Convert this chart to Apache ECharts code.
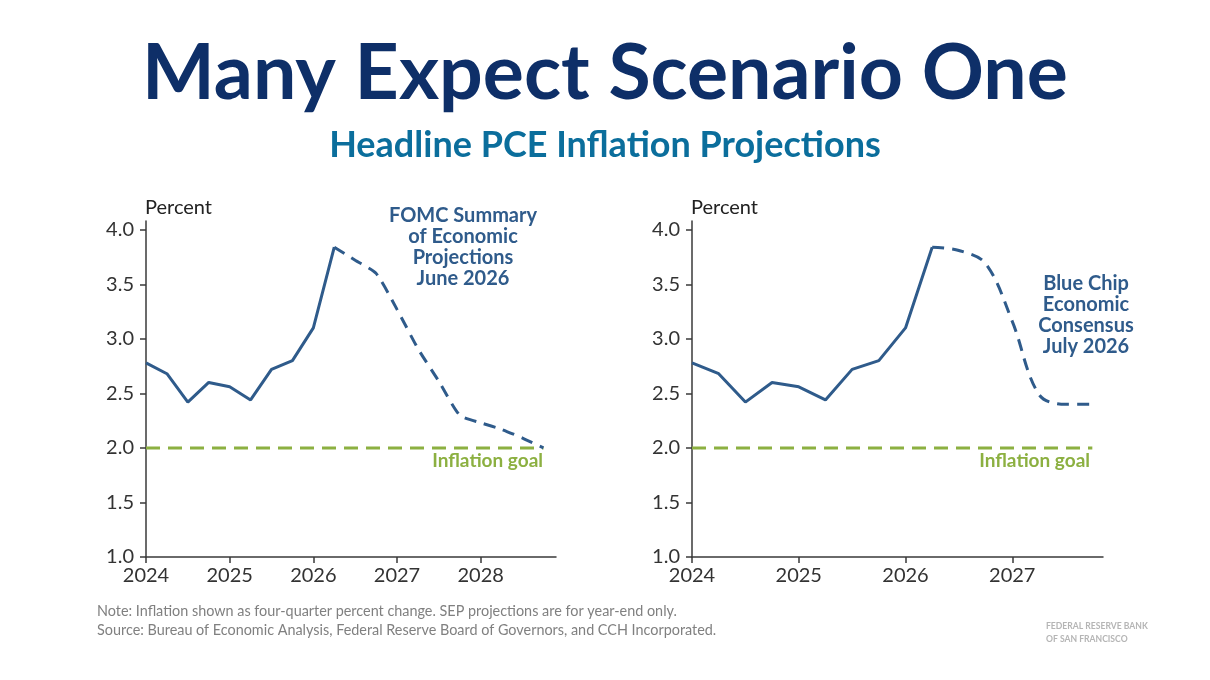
<!DOCTYPE html>
<html><head><meta charset="utf-8">
<script src="https://cdn.jsdelivr.net/npm/echarts@6/dist/echarts.min.js"></script>
<style>html,body{margin:0;padding:0;background:#fff}#c{width:1210px;height:680px}</style>
</head><body><div id="c"></div>
<script>
// ---- data ----
var histX = [2024, 2024.25, 2024.5, 2024.75, 2025, 2025.25, 2025.5, 2025.75, 2026, 2026.25];
var histY = [2.78, 2.68, 2.42, 2.60, 2.56, 2.44, 2.72, 2.80, 3.10, 3.84];
var sepX = [2026.25, 2026.5, 2026.75, 2027, 2027.25, 2027.5, 2027.75, 2028, 2028.25, 2028.5, 2028.75];
var sepY = [3.84, 3.72, 3.60, 3.27, 2.91, 2.61, 2.30, 2.23, 2.17, 2.09, 2.00];
var bcX = [2026.25, 2026.5, 2026.75, 2027, 2027.25, 2027.5, 2027.75];
var bcY = [3.84, 3.81, 3.69, 3.16, 2.49, 2.40, 2.40];
var goalLeftX = [2024, 2028.75];
var goalRightX = [2024, 2027.75];
var goalY = [2.0, 2.0];
var yTicks = [1.0, 1.5, 2.0, 2.5, 3.0, 3.5, 4.0];
var xTicksLeft = [2024, 2025, 2026, 2027, 2028];
var xTicksRight = [2024, 2025, 2026, 2027];

function pairs(xs, ys){ return xs.map(function(x,i){ return [x, ys[i]]; }); }

var blue = '#2f5b8b', green = '#8cb041', axisCol = '#3a3a3a', font = 'Lato';

function xAx(idx, max, ticks){
  return {type:'value', gridIndex:idx, min:2024, max:max, interval:1,
    axisLine:{show:true, lineStyle:{color:axisCol, width:1.5}},
    axisTick:{show:true, length:6, customValues:ticks, lineStyle:{color:axisCol, width:1.5}},
    axisLabel:{customValues:ticks, color:'#333', fontSize:20, fontFamily:font, margin:9,
      formatter:function(v){return String(Math.round(v));}},
    splitLine:{show:false}};
}
function yAx(idx){
  return {type:'value', gridIndex:idx, min:1, max:4.08, interval:0.5,
    axisLine:{show:true, lineStyle:{color:axisCol, width:1.5}},
    axisTick:{show:true, length:6, customValues:yTicks, lineStyle:{color:axisCol, width:1.5}},
    axisLabel:{customValues:yTicks, color:'#333', fontSize:20, fontFamily:font, margin:12,
      formatter:function(v){return v.toFixed(1);}},
    splitLine:{show:false}};
}
function line(xi, data, dashed, color, smooth){
  return {type:'line', xAxisIndex:xi, yAxisIndex:xi, data:data, symbol:'none', smooth:smooth||false,
    lineStyle:{color:color, width:3, type: dashed ? [12,8] : 'solid'}, z: 3, silent:true};
}

var chart = echarts.init(document.getElementById('c'), null, {renderer:'canvas'});
chart.setOption({
  backgroundColor:'#fff',
  animation:false,
  grid:[
    {left:146, top:221, width:410, height:336},
    {left:692, top:221, width:411, height:336}
  ],
  xAxis:[xAx(0, 2028.9, xTicksLeft), xAx(1, 2027.85, xTicksRight)],
  yAxis:[yAx(0), yAx(1)],
  series:[
    {type:'line', xAxisIndex:0, yAxisIndex:0, data:pairs(goalLeftX, goalY), symbol:'none',
      lineStyle:{color:green, width:3, type:[14,8]}, z:2},
    {type:'line', xAxisIndex:1, yAxisIndex:1, data:pairs(goalRightX, goalY), symbol:'none',
      lineStyle:{color:green, width:3, type:[14,8]}, z:2},
    line(0, pairs(histX, histY), false, blue),
    line(0, pairs(sepX, sepY), true, blue, 0.2),
    line(1, pairs(histX, histY), false, blue),
    line(1, pairs(bcX, bcY), true, blue, 0.35)
  ],
  graphic:[
    {type:'text', left:'center', top:36, style:{text:'Many Expect Scenario One', fill:'#0e2f68', font:'bold 77px ' + font}},
    {type:'text', left:'center', top:127, style:{text:'Headline PCE Inflation Projections', fill:'#0b6e9c', font:'bold 36px ' + font}},
    {type:'text', x:145, y:198, style:{text:'Percent', fill:'#222', font:'20px ' + font}},
    {type:'text', x:691, y:198, style:{text:'Percent', fill:'#222', font:'20px ' + font}},
    {type:'text', x:463, y:205, style:{text:'FOMC Summary\nof Economic\nProjections\nJune 2026', fill:blue, font:'bold 20px ' + font, align:'center', lineHeight:21}},
    {type:'text', x:1086, y:273, style:{text:'Blue Chip\nEconomic\nConsensus\nJuly 2026', fill:blue, font:'bold 20px ' + font, align:'center', lineHeight:21}},
    {type:'text', x:543, y:451, style:{text:'Inflation goal', fill:green, font:'bold 19px ' + font, align:'right'}},
    {type:'text', x:1090, y:451, style:{text:'Inflation goal', fill:green, font:'bold 19px ' + font, align:'right'}},
    {type:'text', x:97, y:602, style:{text:'Note: Inflation shown as four-quarter percent change. SEP projections are for year-end only.\nSource: Bureau of Economic Analysis, Federal Reserve Board of Governors, and CCH Incorporated.', fill:'#808080', font:'14.4px ' + font, lineHeight:19}},
    {type:'text', x:1046, y:620, style:{text:'FEDERAL RESERVE BANK\nOF SAN FRANCISCO', fill:'#b5b5b5', font:'bold 8.6px ' + font, lineHeight:13}}
  ]
});
</script></body></html>
